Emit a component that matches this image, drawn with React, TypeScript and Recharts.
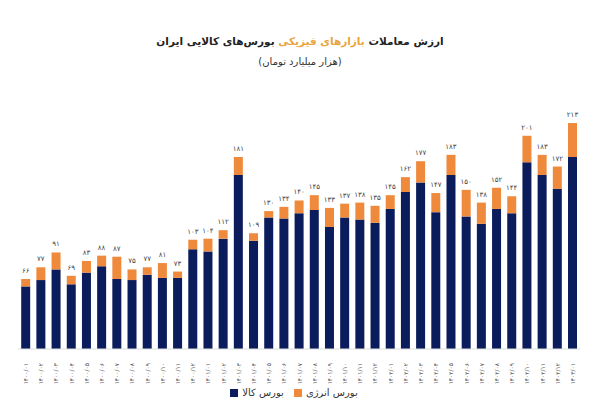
import React from "react"
import { BarChart, Bar, XAxis, YAxis, Legend, LabelList } from "recharts"

// ماه‌ها از ۱۴۰۰/۰۱ تا ۱۴۰۳/۰۱
const months = [
  "1400/01", "1400/02", "1400/03", "1400/04", "1400/05", "1400/06", "1400/07", "1400/08", "1400/09", "1400/10", "1400/11", "1400/12",
  "1401/01", "1401/02", "1401/03", "1401/04", "1401/05", "1401/06", "1401/07", "1401/08", "1401/09", "1401/10", "1401/11", "1401/12",
  "1402/01", "1402/02", "1402/03", "1402/04", "1402/05", "1402/06", "1402/07", "1402/08", "1402/09", "1402/10", "1402/11", "1402/12",
  "1403/01",
]

// بورس کالا
const commodity = [
  59, 65, 75, 61, 72, 78, 66, 65, 70, 67, 67, 94,
  92, 104, 164, 102, 124, 123, 128, 131, 115, 124, 122, 119,
  132, 148, 157, 129, 164, 125, 118, 132, 128, 176, 164, 151,
  181,
]

// بورس انرژی
const energy = [
  7, 12, 16, 8, 11, 10, 21, 10, 7, 14, 6, 9,
  12, 8, 17, 7, 6, 11, 12, 14, 18, 13, 16, 16,
  13, 14, 20, 18, 19, 25, 20, 20, 16, 25, 19, 21,
  32,
]

const NAVY = "#0b1c5c"
const ORANGE = "#ef8a3c"
const FONT = "Tahoma, 'DejaVu Sans', sans-serif"

const faDigits = (s: string | number) =>
  String(s).replace(/[0-9]/g, d => "۰۱۲۳۴۵۶۷۸۹"[Number(d)])

const data = months.map((m, i) => ({
  month: m,
  commodity: commodity[i],
  energy: energy[i],
  total: commodity[i] + energy[i],
}))

function MonthTick(props: any) {
  const { x, y, payload } = props
  return (
    <text
      x={x}
      y={y + 6}
      transform={`rotate(-90 ${x} ${y + 6})`}
      textAnchor="end"
      dominantBaseline="central"
      fontSize={6}
      fill="#555"
      fontFamily={FONT}
    >
      {faDigits(payload.value)}
    </text>
  )
}

export default function App() {
  return (
    <div style={{ position: "relative", width: 600, height: 415, background: "#fff", fontFamily: FONT }}>
      <style>{`body{margin:0}`}</style>

      <div
        style={{
          position: "absolute",
          top: 35,
          left: 0,
          width: 600,
          textAlign: "center",
          direction: "rtl",
          fontSize: 10.5,
          fontWeight: "bold",
          color: "#222",
        }}
      >
        ارزش معاملات <span style={{ color: "#e9a43c" }}>بازارهای فیزیکی</span> بورس‌های کالایی ایران
      </div>
      <div
        style={{
          position: "absolute",
          top: 56,
          left: 0,
          width: 600,
          textAlign: "center",
          direction: "rtl",
          fontSize: 10,
          color: "#333",
        }}
      >
        (هزار میلیارد تومان)
      </div>

      <div style={{ position: "absolute", top: 0, left: 0 }}>
        <BarChart
          width={600}
          height={415}
          data={data}
          margin={{ top: 105, right: 20, left: 18, bottom: 0 }}
          barCategoryGap="21%"
        >
          <XAxis
            dataKey="month"
            interval={0}
            height={38}
            tick={<MonthTick />}
            tickLine={false}
            axisLine={{ stroke: "#ddd" }}
          />
          <YAxis hide domain={[0, 230]} />
          <Legend
            verticalAlign="bottom"
            iconType="square"
            iconSize={8}
            height={28}
            itemSorter="dataKey"
            wrapperStyle={{ fontSize: 10, color: "#333", fontFamily: FONT }}
            formatter={(v: string) => <span style={{ color: "#333" }}>{v}</span>}
          />
          <Bar dataKey="commodity" name="بورس کالا" stackId="a" fill={NAVY} isAnimationActive={false} />
          <Bar dataKey="energy" name="بورس انرژی" stackId="a" fill={ORANGE} isAnimationActive={false}>
            <LabelList
              dataKey="total"
              position="top"
              offset={6}
              fontSize={7}
              fill="#444"
              fontFamily={FONT}
              formatter={(v: any) => faDigits(v)}
            />
          </Bar>
        </BarChart>
      </div>
    </div>
  )
}
